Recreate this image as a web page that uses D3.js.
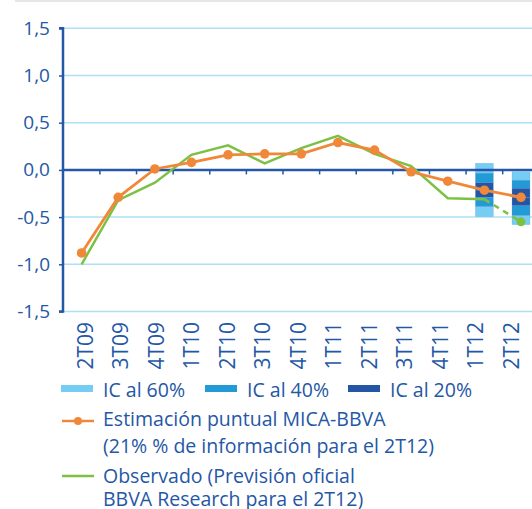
<!DOCTYPE html>
<html>
<head>
    <script src="https://d3js.org/d3.v7.min.js"></script>
    <style>
        body { margin: 0; background: #fff; }
        text { font-family: "Open Sans", sans-serif; fill: #2457a5; }
    </style>
</head>
<body>
    <svg width="532" height="509"></svg>
    <script>
    // quarters on the x axis
    var quarters = ["2T09","3T09","4T09","1T10","2T10","3T10","4T10","1T11","2T11","3T11","4T11","1T12","2T12"];
    // MICA-BBVA point estimate
    var estimacion = [-0.88,-0.29,0.01,0.08,0.16,0.17,0.17,0.29,0.21,-0.02,-0.12,-0.215,-0.29];
    // observed growth (last value = official forecast, drawn dashed)
    var observado = [-1.0,-0.32,-0.135,0.16,0.26,0.07,0.23,0.36,0.17,0.04,-0.30,-0.31,-0.55];
    // confidence intervals for the last two quarters: [low, high]
    var icQuarters = ["1T12","2T12"];
    var ic60 = [[-0.495,0.07],[-0.58,-0.02]];
    var ic40 = [[-0.39,-0.035],[-0.485,-0.11]];
    var ic20 = [[-0.29,-0.135],[-0.38,-0.195]];
    var yTicks = [-1.5,-1,-0.5,0,0.5,1,1.5];

    var blue = "#2457a5", orange = "#f0883a", green = "#7cc143";
    var c60 = "#76cdf4", c40 = "#229ad6", c20 = "#2456a5";

    var svg = d3.select("svg");

    var x = d3.scaleBand().domain(quarters).range([63.3, 539.3]);
    // category labels sit on a slightly tighter pitch than the plotted points
    var xLab = d3.scalePoint().domain(quarters).range([85, 511]);
    var y = d3.scaleLinear().domain([-1.5, 1.5]).range([311.5, 28.3]);
    var cx = function(q){ return x(q) + x.bandwidth()/2; };

    // thin gray line at the very top
    svg.append("line").attr("x1",15).attr("x2",532).attr("y1",1).attr("y2",1)
        .attr("stroke","#dedede").attr("stroke-width",1.5);

    // gridlines
    svg.append("g").selectAll("line").data(yTicks.filter(function(d){return d!==0;}))
        .join("line")
        .attr("x1",63).attr("x2",532)
        .attr("y1",function(d){return y(d);}).attr("y2",function(d){return y(d);})
        .attr("stroke","#ade0f5").attr("stroke-width",1.5);

    // y axis
    var yAxis = d3.axisLeft(y).tickValues(yTicks).tickSize(4).tickPadding(9)
        .tickFormat(function(d){ return d3.format(".1f")(d).replace(".",",").replace("−","-"); });
    var gy = svg.append("g").attr("transform","translate(63,0)").call(yAxis);
    gy.select(".domain").attr("stroke",blue).attr("stroke-width",2.5).attr("d","M-4,28.3H0V311.5H-4");
    gy.selectAll(".tick line").attr("stroke",blue).attr("stroke-width",1.5);
    gy.selectAll(".tick text").style("font-size","19px").attr("fill",blue).style("font-family","'Open Sans', sans-serif");

    // confidence interval bars (stacked)
    var bw = x.bandwidth()*0.49;
    var icG = svg.append("g");
    icQuarters.forEach(function(q,i){
        var e = estimacion[quarters.indexOf(q)];
        var segs = [
            [ic60[i][1], ic40[i][1], c60],
            [ic40[i][1], ic20[i][1], c40],
            [ic20[i][1], e, c20],
            [e, ic20[i][0], c20],
            [ic20[i][0], ic40[i][0], c40],
            [ic40[i][0], ic60[i][0], c60]
        ];
        icG.selectAll(null).data(segs).join("rect")
            .attr("x", cx(q)-bw/2).attr("width", bw)
            .attr("y", function(d){return y(d[0]);})
            .attr("height", function(d){return y(d[1])-y(d[0]);})
            .attr("fill", function(d){return d[2];})
            .attr("stroke","#5f8fd0").attr("stroke-opacity",0.35).attr("stroke-width",0.6);
    });

    // zero line with category ticks
    svg.append("line").attr("x1",63).attr("x2",532).attr("y1",y(0)).attr("y2",y(0))
        .attr("stroke",blue).attr("stroke-width",2.5);
    svg.append("g").selectAll("line").data(quarters.slice(1))
        .join("line")
        .attr("x1",function(d){return x(d);}).attr("x2",function(d){return x(d);})
        .attr("y1",y(0)).attr("y2",y(0)+4.5)
        .attr("stroke",blue).attr("stroke-width",1.5);

    // x labels
    svg.append("g").selectAll("text").data(quarters).join("text")
        .attr("transform",function(d){return "translate("+xLab(d)+",322) rotate(-90)";})
        .attr("text-anchor","end").attr("dy","0.36em")
        .style("font-size","21px")
        .text(function(d){return d;});

    // observed line: solid part and dashed forecast
    var line = d3.line().x(function(d){return cx(d.q);}).y(function(d){return y(d.v);});
    var obs = quarters.map(function(q,i){return {q:q, v:observado[i]};});
    svg.append("path").datum(obs.slice(0,12)).attr("d",line)
        .attr("fill","none").attr("stroke",green).attr("stroke-width",2.5);
    svg.append("path").datum(obs.slice(11)).attr("d",line)
        .attr("fill","none").attr("stroke",green).attr("stroke-width",2.5).attr("stroke-dasharray","6,5");
    svg.append("circle").attr("cx",cx("2T12")).attr("cy",y(observado[12])).attr("r",4.5).attr("fill",green);

    // estimate line with markers
    var est = quarters.map(function(q,i){return {q:q, v:estimacion[i]};});
    svg.append("path").datum(est).attr("d",line)
        .attr("fill","none").attr("stroke",orange).attr("stroke-width",2.8);
    svg.append("g").selectAll("circle").data(est).join("circle")
        .attr("cx",function(d){return cx(d.q);}).attr("cy",function(d){return y(d.v);})
        .attr("r",4.8).attr("fill",orange);

    // legend
    var leg = svg.append("g").style("font-size","19.5px");
    var icLeg = [["IC al 60%",c60,61],["IC al 40%",c40,205],["IC al 20%",c20,348]];
    icLeg.forEach(function(d){
        leg.append("rect").attr("x",d[2]).attr("y",385).attr("width",32).attr("height",7).attr("fill",d[1]);
        leg.append("text").attr("x",d[2]+42).attr("y",397).text(d[0]);
    });
    leg.append("line").attr("x1",62).attr("x2",94).attr("y1",421).attr("y2",421).attr("stroke",orange).attr("stroke-width",2.5);
    leg.append("circle").attr("cx",78).attr("cy",421).attr("r",4).attr("fill",orange);
    leg.append("text").attr("x",103).attr("y",426).text("Estimación puntual MICA-BBVA");
    leg.append("text").attr("x",103).attr("y",453).text("(21% % de información para el 2T12)");
    leg.append("line").attr("x1",62).attr("x2",94).attr("y1",476).attr("y2",476).attr("stroke",green).attr("stroke-width",2.5);
    leg.append("text").attr("x",103).attr("y",483).text("Observado (Previsión oficial");
    leg.append("text").attr("x",103).attr("y",506).text("BBVA Research para el 2T12)");
    </script>
</body>
</html>
